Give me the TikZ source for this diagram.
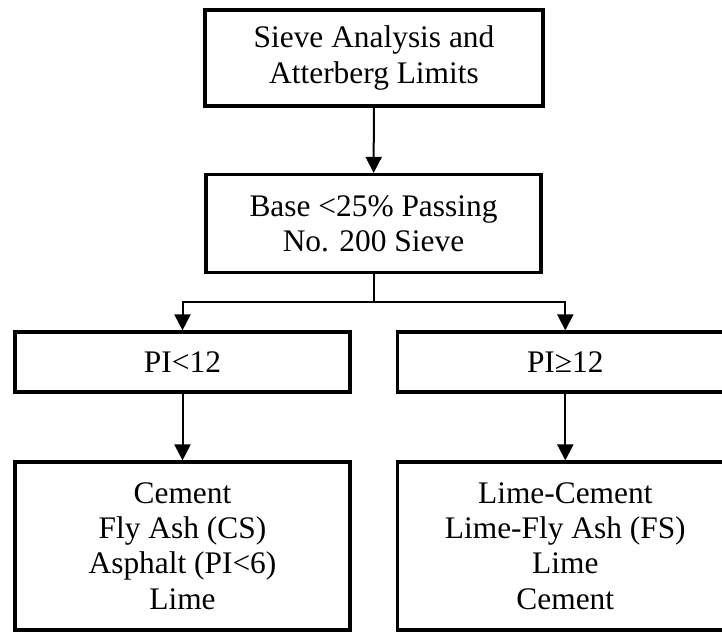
\documentclass[tikz,border=0pt]{standalone}
\usepackage{fontspec}
\setmainfont{Liberation Serif}
\usetikzlibrary{arrows.meta}

\begin{document}
\begin{tikzpicture}[x=0.5pt,y=-0.5pt,
  box/.style={draw,line width=1.6pt,inner sep=0pt,align=center,
    font=\fontsize{15.7}{17.6}\selectfont},
  arr/.style={line width=1pt,-{Triangle[length=8pt,width=8pt]}}]
  \useasboundingbox (0,0) rectangle (722,632);
  \clip (0,0) rectangle (722,632);
  % top of the chart
  \node[box,minimum width=169pt,minimum height=48pt] (sieve) at (374,58)
    {Sieve Analysis and\\Atterberg Limits};
  \node[box,minimum width=167.5pt,minimum height=49pt] (base) at (373.5,223.5)
    {Base <25\% Passing\\No. 200 Sieve};
  % the two PI branches
  \node[box,minimum width=167.5pt,minimum height=30pt] (pilow) at (182.5,362) {PI<12};
  \node[box,minimum width=167.5pt,minimum height=30pt] (pihigh) at (565.3,362) {PI≥12};
  \node[box,minimum width=167.5pt,minimum height=84pt] (stablow) at (182.5,546)
    {Cement\\Fly Ash (CS)\\Asphalt (PI<6)\\Lime};
  \node[box,minimum width=167.5pt,minimum height=84pt] (stabhigh) at (565.3,546)
    {Lime-Cement\\Lime-Fly Ash (FS)\\Lime\\Cement};
  % connectors
  \coordinate (split) at (373.5,302);
  \draw[arr] (sieve) -- (base);
  \draw[line width=1pt] (base.south) -- (split);
  \draw[arr] (split) -| (pilow.north);
  \draw[arr] (split) -| (pihigh.north);
  \draw[arr] (pilow) -- (stablow);
  \draw[arr] (pihigh) -- (stabhigh);
\end{tikzpicture}
\end{document}
